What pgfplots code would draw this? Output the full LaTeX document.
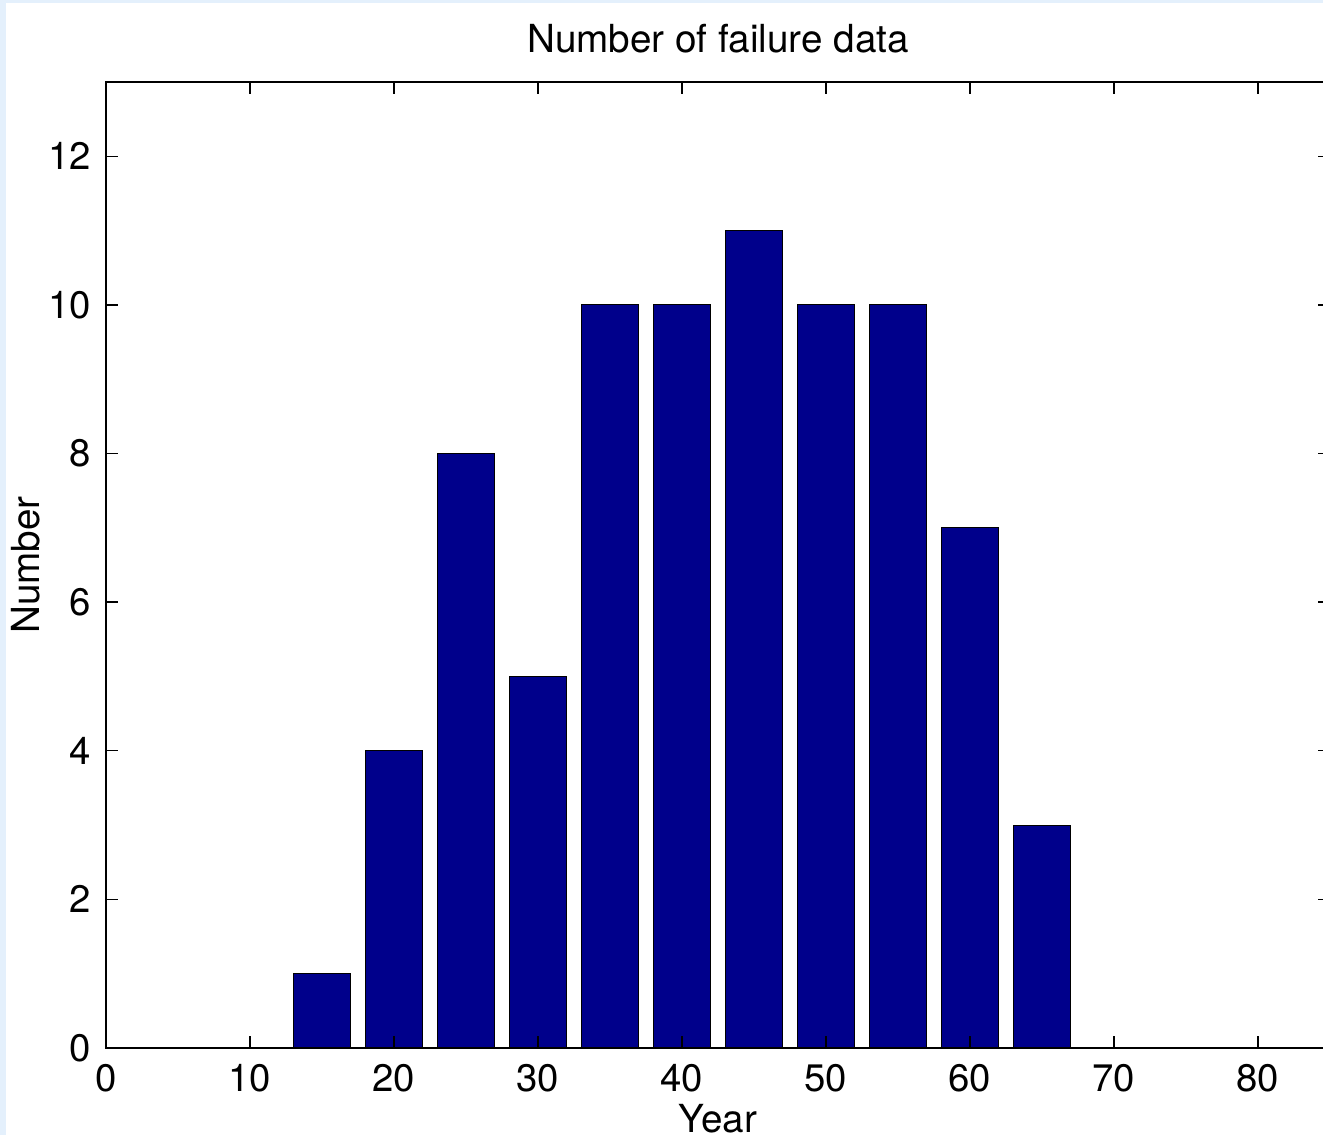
\documentclass[border=0pt]{standalone}
\usepackage{pgfplots}
\pgfplotsset{compat=1.18}
\usepackage{fontspec}
\setmainfont{TeX Gyre Heros}
\definecolor{matblue}{rgb}{0,0,0.545}
\definecolor{edgeblue}{RGB}{228,240,252}
\begin{document}
\begin{tikzpicture}
\begin{axis}[
  name=ax,
  scale only axis,
  width=367.2pt, height=289.8pt,
  xmin=0, xmax=85, ymin=0, ymax=13,
  xtick={0,10,...,80}, ytick={0,2,...,12},
  tick align=inside,
  major tick length=3.6pt,
  axis line style={line width=0.6pt},
  tick style={line width=0.4pt, black},
  every tick label/.append style={font=\fontsize{11.5}{13}\selectfont},
  /pgf/number format/assume math mode=true,
  xticklabel style={yshift=-1.5pt},
  yticklabel style={xshift=-1pt},
  title={Number of failure data},
  title style={font=\fontsize{11.6}{13}\selectfont, at={(0.5,1)}, anchor=south, yshift=-0.9pt},
  xlabel={Year},
  xlabel style={font=\fontsize{11.6}{13}\selectfont, yshift=3.3pt},
  ylabel={Number},
  ylabel style={font=\fontsize{11.6}{13}\selectfont, yshift=-4.4pt},
  axis on top,
]
\addplot[ybar, bar width=4, fill=matblue, draw=black, line width=0.3pt] coordinates {
  (15,1) (20,4) (25,8) (30,5) (35,10) (40,10) (45,11) (50,10) (55,10) (60,7) (65,3)
};
\end{axis}
\pgfresetboundingbox
\path[use as bounding box] ([xshift=-31.8pt,yshift=-26.1pt]ax.south west) rectangle ++(396.9pt,340.5pt);
\fill[edgeblue] ([xshift=-31.8pt,yshift=-26.1pt]ax.south west) rectangle ++(1.8pt,340.5pt);
\fill[edgeblue] ([xshift=-31.8pt,yshift=313.5pt]ax.south west) rectangle ++(396.9pt,0.9pt);
\end{tikzpicture}
\end{document}
